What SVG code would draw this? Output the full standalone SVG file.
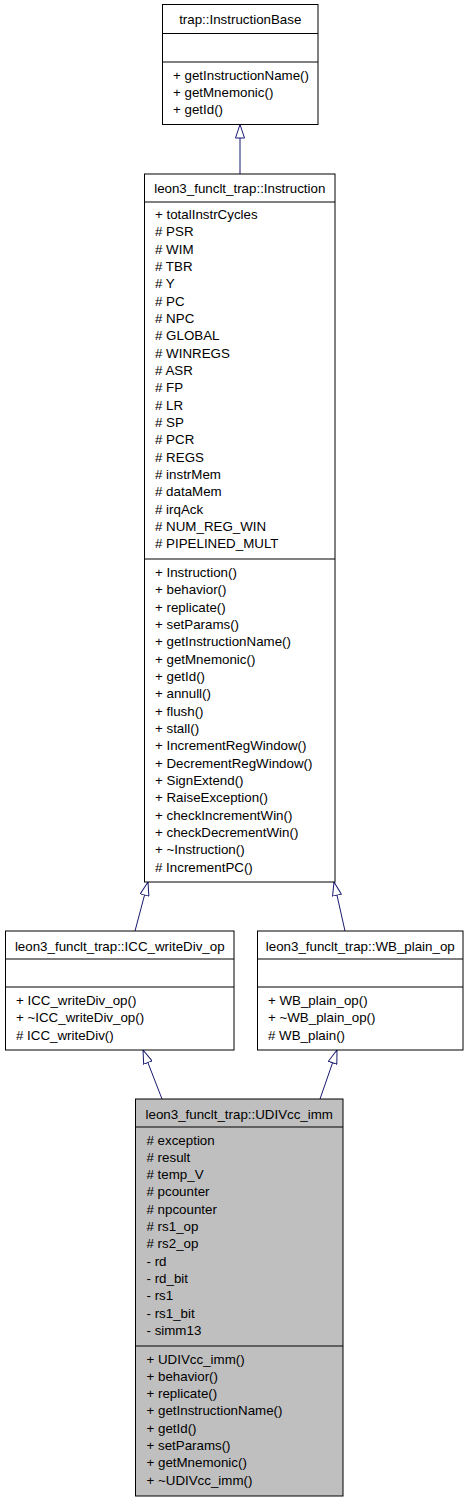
<svg xmlns="http://www.w3.org/2000/svg" width="469" height="1501" viewBox="0 0 469 1501">
<style>
.box{fill:#ffffff;stroke:#000000;stroke-width:1}
.gray{fill:#bfbfbf}
.sep{stroke:#000000;stroke-width:1}
text{font-family:"Liberation Sans",Arial,Helvetica,sans-serif;font-size:13.33px;fill:#000000}
.t{text-anchor:middle}
.edge{stroke:#191970;stroke-width:1;fill:none;marker-end:url(#tri)}
</style>
<defs>
<marker id="tri" viewBox="0 0 14 10" refX="14" refY="5" markerUnits="userSpaceOnUse" markerWidth="14" markerHeight="10" orient="auto">
<path d="M0.5,0.5 L14,5 L0.5,9.5 Z" fill="#ffffff" stroke="#191970" stroke-width="1"/>
</marker>
</defs>
<rect width="469" height="1501" fill="#ffffff"/>

<g id="connectors">
<path class="edge" d="M240,174 L240,124.5"/>
<path class="edge" d="M135,931 L148,882"/>
<path class="edge" d="M345,931 L334,882"/>
<path class="edge" d="M162,1099 L143,1050"/>
<path class="edge" d="M320,1099 L337,1050"/>
</g>

<g id="InstructionBase">
<rect class="box" x="162.5" y="4.5" width="155.5" height="120"/>
<line class="sep" x1="162.5" y1="33.5" x2="318" y2="33.5"/>
<line class="sep" x1="162.5" y1="62" x2="318" y2="62"/>
<text class="t" x="240.25" y="23.5">trap::InstructionBase</text>
<text x="173" y="79.5">+ getInstructionName()</text>
<text x="173" y="96.8">+ getMnemonic()</text>
<text x="173" y="114.1">+ getId()</text>
</g>

<g id="Instruction">
<rect class="box" x="144.5" y="174" width="190.5" height="708"/>
<line class="sep" x1="144.5" y1="202" x2="335" y2="202"/>
<line class="sep" x1="144.5" y1="559" x2="335" y2="559"/>
<text class="t" x="239.75" y="192.5">leon3_funclt_trap::Instruction</text>
<text x="155">
<tspan x="155" y="219">+ totalInstrCycles</tspan>
<tspan x="155" y="236.33"># PSR</tspan>
<tspan x="155" y="253.66"># WIM</tspan>
<tspan x="155" y="270.99"># TBR</tspan>
<tspan x="155" y="288.32"># Y</tspan>
<tspan x="155" y="305.65"># PC</tspan>
<tspan x="155" y="322.98"># NPC</tspan>
<tspan x="155" y="340.31"># GLOBAL</tspan>
<tspan x="155" y="357.64"># WINREGS</tspan>
<tspan x="155" y="374.97"># ASR</tspan>
<tspan x="155" y="392.3"># FP</tspan>
<tspan x="155" y="409.63"># LR</tspan>
<tspan x="155" y="426.96"># SP</tspan>
<tspan x="155" y="444.29"># PCR</tspan>
<tspan x="155" y="461.62"># REGS</tspan>
<tspan x="155" y="478.95"># instrMem</tspan>
<tspan x="155" y="496.28"># dataMem</tspan>
<tspan x="155" y="513.61"># irqAck</tspan>
<tspan x="155" y="530.94"># NUM_REG_WIN</tspan>
<tspan x="155" y="548.27"># PIPELINED_MULT</tspan>
</text>
<text x="155">
<tspan x="155" y="577">+ Instruction()</tspan>
<tspan x="155" y="594.33">+ behavior()</tspan>
<tspan x="155" y="611.66">+ replicate()</tspan>
<tspan x="155" y="628.99">+ setParams()</tspan>
<tspan x="155" y="646.32">+ getInstructionName()</tspan>
<tspan x="155" y="663.65">+ getMnemonic()</tspan>
<tspan x="155" y="680.98">+ getId()</tspan>
<tspan x="155" y="698.31">+ annull()</tspan>
<tspan x="155" y="715.64">+ flush()</tspan>
<tspan x="155" y="732.97">+ stall()</tspan>
<tspan x="155" y="750.3">+ IncrementRegWindow()</tspan>
<tspan x="155" y="767.63">+ DecrementRegWindow()</tspan>
<tspan x="155" y="784.96">+ SignExtend()</tspan>
<tspan x="155" y="802.29">+ RaiseException()</tspan>
<tspan x="155" y="819.62">+ checkIncrementWin()</tspan>
<tspan x="155" y="836.95">+ checkDecrementWin()</tspan>
<tspan x="155" y="854.28">+ ~Instruction()</tspan>
<tspan x="155" y="871.61"># IncrementPC()</tspan>
</text>
</g>

<g id="ICC_writeDiv_op">
<rect class="box" x="5.5" y="931" width="228.5" height="119"/>
<line class="sep" x1="5.5" y1="959" x2="234" y2="959"/>
<line class="sep" x1="5.5" y1="987" x2="234" y2="987"/>
<text class="t" x="119.75" y="950.5">leon3_funclt_trap::ICC_writeDiv_op</text>
<text x="16" y="1005">+ ICC_writeDiv_op()</text>
<text x="16" y="1022.3">+ ~ICC_writeDiv_op()</text>
<text x="16" y="1039.6"># ICC_writeDiv()</text>
</g>

<g id="WB_plain_op">
<rect class="box" x="257.5" y="931" width="205.5" height="119"/>
<line class="sep" x1="257.5" y1="959" x2="463" y2="959"/>
<line class="sep" x1="257.5" y1="987" x2="463" y2="987"/>
<text class="t" x="360.25" y="950.5">leon3_funclt_trap::WB_plain_op</text>
<text x="268" y="1005">+ WB_plain_op()</text>
<text x="268" y="1022.3">+ ~WB_plain_op()</text>
<text x="268" y="1039.6"># WB_plain()</text>
</g>

<g id="UDIVcc_imm">
<rect class="box gray" x="135.5" y="1099" width="207.5" height="397"/>
<line class="sep" x1="135.5" y1="1127" x2="343" y2="1127"/>
<line class="sep" x1="135.5" y1="1346" x2="343" y2="1346"/>
<text class="t" x="239.25" y="1118.5">leon3_funclt_trap::UDIVcc_imm</text>
<text x="146.5">
<tspan x="146.5" y="1144.5"># exception</tspan>
<tspan x="146.5" y="1161.83"># result</tspan>
<tspan x="146.5" y="1179.16"># temp_V</tspan>
<tspan x="146.5" y="1196.49"># pcounter</tspan>
<tspan x="146.5" y="1213.82"># npcounter</tspan>
<tspan x="146.5" y="1231.15"># rs1_op</tspan>
<tspan x="146.5" y="1248.48"># rs2_op</tspan>
<tspan x="146.5" y="1265.81">- rd</tspan>
<tspan x="146.5" y="1283.14">- rd_bit</tspan>
<tspan x="146.5" y="1300.47">- rs1</tspan>
<tspan x="146.5" y="1317.8">- rs1_bit</tspan>
<tspan x="146.5" y="1335.13">- simm13</tspan>
</text>
<text x="146.5">
<tspan x="146.5" y="1363.5">+ UDIVcc_imm()</tspan>
<tspan x="146.5" y="1380.83">+ behavior()</tspan>
<tspan x="146.5" y="1398.16">+ replicate()</tspan>
<tspan x="146.5" y="1415.49">+ getInstructionName()</tspan>
<tspan x="146.5" y="1432.82">+ getId()</tspan>
<tspan x="146.5" y="1450.15">+ setParams()</tspan>
<tspan x="146.5" y="1467.48">+ getMnemonic()</tspan>
<tspan x="146.5" y="1484.81">+ ~UDIVcc_imm()</tspan>
</text>
</g>
</svg>
